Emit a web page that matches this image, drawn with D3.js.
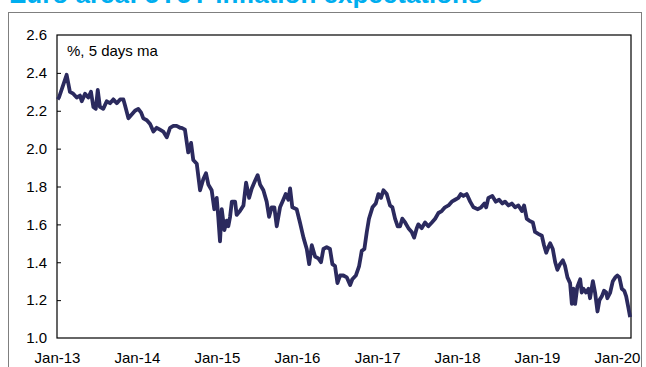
<!DOCTYPE html>
<html>
<head>
<meta charset="utf-8">
<script src="https://cdn.jsdelivr.net/npm/d3@7"></script>
<style>
  body { margin: 0; background: #fff; }
  svg { display: block; font-family: Arial, "Liberation Sans", sans-serif; }
</style>
</head>
<body>
<script>
// dates (roughly weekly/fortnightly readings)
var dates = [
  "2013-01-04","2013-01-10","2013-02-14","2013-03-01","2013-03-16","2013-04-01","2013-04-16","2013-04-24",
  "2013-05-09","2013-05-24","2013-06-05","2013-06-16","2013-06-27","2013-07-06","2013-07-16","2013-07-31",
  "2013-08-16","2013-08-31","2013-09-15","2013-10-01","2013-10-16","2013-10-31","2013-11-07","2013-11-23",
  "2013-12-08","2013-12-23","2014-01-07","2014-01-20","2014-01-30","2014-02-15","2014-03-02","2014-03-17",
  "2014-04-01","2014-04-16","2014-05-01","2014-05-17","2014-06-01","2014-06-16","2014-07-01","2014-07-17",
  "2014-07-24","2014-08-08","2014-08-23","2014-09-05","2014-09-15","2014-10-01","2014-10-16","2014-10-31",
  "2014-11-12","2014-11-23","2014-12-08","2014-12-20","2014-12-31","2015-01-07","2015-01-15","2015-01-23",
  "2015-02-04","2015-02-15","2015-02-22","2015-03-02","2015-03-10","2015-03-25","2015-04-01","2015-04-16",
  "2015-05-02","2015-05-14","2015-05-28","2015-06-09","2015-06-24","2015-07-06","2015-07-17","2015-08-01",
  "2015-08-16","2015-08-27","2015-09-08","2015-09-20","2015-10-01","2015-10-16","2015-10-31","2015-11-11",
  "2015-11-23","2015-12-01","2015-12-11","2015-12-31","2016-01-15","2016-01-31","2016-02-15","2016-02-26",
  "2016-03-09","2016-03-24","2016-04-08","2016-04-20","2016-05-01","2016-05-16","2016-05-31","2016-06-11",
  "2016-06-23","2016-07-04","2016-07-16","2016-07-31","2016-08-16","2016-08-31","2016-09-10","2016-09-26",
  "2016-10-11","2016-10-23","2016-11-04","2016-11-15","2016-11-25","2016-12-11","2016-12-26","2017-01-07",
  "2017-01-19","2017-01-30","2017-02-14","2017-03-01","2017-03-12","2017-03-24","2017-04-05","2017-04-16",
  "2017-04-26","2017-05-09","2017-05-24","2017-06-08","2017-06-19","2017-07-01","2017-07-08","2017-07-24",
  "2017-08-08","2017-08-23","2017-09-08","2017-09-23","2017-10-08","2017-10-23","2017-11-07","2017-11-23",
  "2017-12-08","2017-12-23","2018-01-07","2018-01-18","2018-01-30","2018-02-14","2018-03-02","2018-03-17",
  "2018-04-06","2018-04-21","2018-05-06","2018-05-14","2018-05-24","2018-06-11","2018-06-27","2018-07-12",
  "2018-07-27","2018-08-08","2018-08-24","2018-09-08","2018-09-23","2018-10-08","2018-10-24","2018-11-03",
  "2018-11-15","2018-11-26","2018-12-13","2018-12-23","2019-01-07","2019-01-23","2019-02-02","2019-02-12",
  "2019-02-22","2019-03-02","2019-03-14","2019-03-25","2019-04-04","2019-04-16","2019-04-29","2019-05-09",
  "2019-05-20","2019-06-01","2019-06-09","2019-06-16","2019-06-24","2019-07-04","2019-07-17","2019-07-24",
  "2019-08-01","2019-08-13","2019-08-24","2019-08-31","2019-09-13","2019-09-23","2019-10-04","2019-10-13",
  "2019-10-24","2019-11-03","2019-11-13","2019-11-18","2019-12-01","2019-12-13","2019-12-24","2020-01-03",
  "2020-01-12","2020-01-23","2020-02-03","2020-02-12","2020-02-22","2020-03-01"
];

// 5y5y forward, %, 5 days ma
var values = [
  2.26,2.27,2.39,2.30,2.29,2.27,2.28,2.25,
  2.29,2.27,2.30,2.22,2.21,2.31,2.22,2.21,
  2.25,2.24,2.26,2.24,2.26,2.26,2.23,2.16,
  2.18,2.20,2.21,2.19,2.16,2.15,2.13,2.09,
  2.11,2.10,2.09,2.06,2.11,2.12,2.12,2.11,
  2.11,2.10,1.98,2.03,1.94,1.92,1.78,1.84,
  1.87,1.81,1.78,1.68,1.74,1.64,1.51,1.68,
  1.57,1.62,1.59,1.64,1.72,1.72,1.65,1.67,
  1.70,1.82,1.74,1.79,1.83,1.86,1.81,1.78,
  1.72,1.64,1.69,1.69,1.59,1.69,1.73,1.76,
  1.73,1.79,1.69,1.68,1.61,1.53,1.47,1.39,
  1.49,1.43,1.42,1.40,1.47,1.48,1.47,1.39,
  1.38,1.29,1.33,1.33,1.32,1.28,1.31,1.33,
  1.38,1.46,1.47,1.56,1.63,1.69,1.71,1.76,
  1.74,1.78,1.76,1.70,1.69,1.63,1.59,1.59,
  1.63,1.61,1.58,1.56,1.53,1.58,1.60,1.58,
  1.61,1.59,1.61,1.63,1.66,1.67,1.69,1.70,
  1.72,1.73,1.74,1.76,1.75,1.76,1.72,1.69,
  1.68,1.69,1.71,1.69,1.74,1.75,1.72,1.73,
  1.71,1.72,1.70,1.71,1.69,1.70,1.67,1.70,
  1.63,1.62,1.61,1.56,1.55,1.54,1.49,1.45,
  1.48,1.50,1.47,1.40,1.36,1.39,1.41,1.38,
  1.32,1.29,1.18,1.26,1.18,1.27,1.31,1.24,
  1.26,1.24,1.26,1.21,1.30,1.24,1.14,1.20,
  1.22,1.25,1.24,1.21,1.24,1.30,1.32,1.33,
  1.32,1.26,1.25,1.22,1.16,1.11
];

// axis labels
var xTickLabels = ["Jan-13","Jan-14","Jan-15","Jan-16","Jan-17","Jan-18","Jan-19","Jan-20"];
var yTicks = [1.0, 1.2, 1.4, 1.6, 1.8, 2.0, 2.2, 2.4, 2.6];

var titleText = "Euro area: 5Y5Y inflation expectations";
var noteText = "%, 5 days ma";

var width = 646, height = 367;
var margin = {top: 35, right: 15, bottom: 29, left: 57};
var chartWidth = width - margin.left - margin.right;
var chartHeight = height - margin.top - margin.bottom;

var parse = d3.timeParse("%Y-%m-%d");
var data = [];
for (var i = 0; i < dates.length; i++) {
  data.push({date: parse(dates[i]), value: values[i]});
}

var xScale = d3.scaleTime()
  .domain([new Date(2013, 0, 1), new Date(2020, 2, 5)])
  .range([0, chartWidth]);

var yScale = d3.scaleLinear()
  .domain([1.0, 2.6])
  .range([chartHeight, 0]);

var svg = d3.select("body").append("svg")
  .attr("width", width)
  .attr("height", height);

// outer frame (only top and sides show)
svg.append("rect")
  .attr("x", 8.5).attr("y", 12.5)
  .attr("width", 633).attr("height", 370)
  .attr("fill", "none")
  .attr("stroke", "#7f7f7f")
  .attr("stroke-width", 1);

// title, cut off by the top edge like in the source
svg.append("text")
  .attr("x", 9).attr("y", 3)
  .attr("fill", "#00aeef")
  .style("font-size", "26px")
  .style("font-weight", "bold")
  .text(titleText);

var chartGroup = svg.append("g")
  .attr("transform", "translate(" + margin.left + "," + margin.top + ")");

var yAxis = d3.axisLeft(yScale)
  .tickValues(yTicks)
  .tickFormat(d3.format(".1f"))
  .tickSizeInner(-4)
  .tickSizeOuter(0)
  .tickPadding(10);

var xTickDates = xTickLabels.map(function(d) { return d3.timeParse("%b-%y")(d); });
var xAxis = d3.axisBottom(xScale)
  .tickValues(xTickDates)
  .tickFormat(function(d, i) { return xTickLabels[i]; })
  .tickSize(0)
  .tickPadding(14);

var gy = chartGroup.append("g").call(yAxis);
var gx = chartGroup.append("g")
  .attr("transform", "translate(0," + chartHeight + ")")
  .call(xAxis);

gy.select(".domain").remove();
gx.select(".domain").remove();
gy.selectAll("text").style("font-size", "15px").attr("fill", "#000");
gx.selectAll("text").style("font-size", "15px").attr("fill", "#000");
gy.selectAll("line").attr("stroke", "#000");
// no tick at the box edges
gy.selectAll(".tick").filter(function(d) { return d === 1.0 || d === 2.6; }).select("line").remove();

// plot box
chartGroup.append("rect")
  .attr("x", 0).attr("y", 0)
  .attr("width", chartWidth).attr("height", chartHeight)
  .attr("fill", "none")
  .attr("stroke", "#000")
  .attr("stroke-width", 1.2);

chartGroup.append("text")
  .attr("x", 10).attr("y", 21)
  .style("font-size", "15px")
  .text(noteText);

var line = d3.line()
  .x(function(d) { return xScale(d.date); })
  .y(function(d) { return yScale(d.value); });

chartGroup.append("path")
  .datum(data)
  .attr("fill", "none")
  .attr("stroke", "#2b2a5e")
  .attr("stroke-width", 3.8)
  .attr("stroke-linejoin", "round")
  .attr("d", line);
</script>
</body>
</html>
